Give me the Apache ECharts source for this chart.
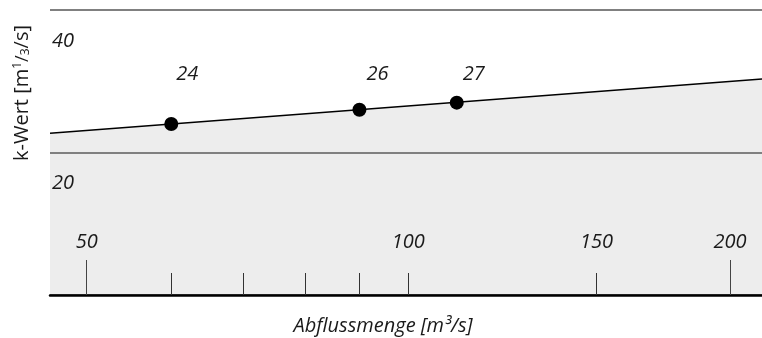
<!DOCTYPE html>
<html>
<head>
<meta charset="utf-8">
<style>
  html, body { margin: 0; padding: 0; background: #fff; }
  #chart { width: 762px; height: 338px; }
</style>
<script src="https://cdn.jsdelivr.net/npm/echarts@6/dist/echarts.min.js"></script>
</head>
<body>
<div id="chart"></div>
<script>
// Measured points: discharge Q [m³/s] and Strickler value k [m^(1/3)/s]
const dischargeQ = [60, 90, 111];
const kValues = [24, 26, 27];

// Fitted trend line (straight on log-scaled Q), taken at the axis ends
const trendQ = [46.2, 214.3];
const trendK = [22.7, 30.3];

// Axis ticks and labels
const xTickValues = [50, 60, 70, 80, 90, 100, 150, 200];
const xLongTickValues = [50, 200];
const xLabelValues = [50, 100, 150, 200];
const yLabelValues = [20, 40];

const FONT = '"Open Sans", "Noto Sans", sans-serif';
const TEXT = '#1a1a1a';

const chart = echarts.init(document.getElementById('chart'), null, { renderer: 'canvas' });

// per-point label shifts (labels sit on one common row above the line)
const labelShift = [[16, -50], [18, -35], [17, -28]];

const pointData = dischargeQ.map((q, i) => ({
  value: [q, kValues[i]],
  label: { offset: labelShift[i] }
}));

const option = {
  animation: false,
  grid: {
    left: 50, right: 0, top: 10, bottom: 43,
    containLabel: false,
    outerBoundsMode: 'none'
  },
  xAxis: [
    {
      type: 'log',
      logBase: 10,
      min: trendQ[0],
      max: trendQ[1],
      z: 5,
      name: 'Abflussmenge [m³/s]',
      nameLocation: 'middle',
      nameGap: 21,
      nameTextStyle: {
        fontFamily: FONT, fontStyle: 'italic', fontSize: 20, color: TEXT,
        padding: [0, 46, 0, 0], verticalAlign: 'top'
      },
      axisLine: { show: true, lineStyle: { color: '#000', width: 2.5 } },
      axisTick: {
        show: true, inside: true, length: 22,
        customValues: xTickValues,
        lineStyle: { color: '#333', width: 1 }
      },
      axisLabel: {
        show: true, inside: true, margin: 43,
        customValues: xLabelValues,
        fontFamily: FONT, fontStyle: 'italic', fontSize: 20, color: TEXT
      },
      splitLine: { show: false },
      minorTick: { show: false }
    },
    {
      type: 'log',
      logBase: 10,
      min: trendQ[0],
      max: trendQ[1],
      z: 5,
      position: 'bottom',
      axisLine: { show: false },
      axisTick: {
        show: true, inside: true, length: 35,
        customValues: xLongTickValues,
        lineStyle: { color: '#444', width: 1 }
      },
      axisLabel: { show: false },
      splitLine: { show: false }
    }
  ],
  yAxis: {
    type: 'value',
    min: 0,
    max: 40,
    interval: 20,
    z: 4,
    axisLine: { show: false },
    axisTick: { show: false },
    axisLabel: {
      show: true, inside: true, margin: 2,
      customValues: yLabelValues,
      verticalAlign: 'top',
      padding: [21, 0, 0, 0],
      fontFamily: FONT, fontStyle: 'italic', fontSize: 20, color: TEXT
    },
    splitLine: { show: true, lineStyle: { color: '#808080', width: 2 } }
  },
  graphic: [
    {
      type: 'text',
      x: 22,
      y: 93,
      rotation: Math.PI / 2,
      style: {
        text: '{a|k-Wert [m}{s|1}{f|/}{b|3}{a|/s]}',
        textAlign: 'center',
        textVerticalAlign: 'middle',
        fill: TEXT,
        rich: {
          a: { fontFamily: FONT, fontSize: 20, fill: TEXT, verticalAlign: 'bottom' },
          s: { fontFamily: FONT, fontSize: 12, fill: TEXT, verticalAlign: 'top' },
          f: { fontFamily: FONT, fontSize: 18, fill: TEXT, verticalAlign: 'bottom' },
          b: { fontFamily: FONT, fontSize: 12, fill: TEXT, verticalAlign: 'bottom' }
        }
      },
      z: 100
    }
  ],
  series: [
    {
      name: 'Trend',
      type: 'line',
      data: trendQ.map((q, i) => [q, trendK[i]]),
      showSymbol: false,
      lineStyle: { color: '#000', width: 1.5 },
      areaStyle: { color: '#ededed', opacity: 1, origin: 'start' },
      z: 1
    },
    {
      name: 'k-Wert',
      type: 'scatter',
      data: pointData,
      symbol: 'circle',
      symbolSize: 14,
      itemStyle: { color: '#000', opacity: 1 },
      label: {
        show: true,
        position: 'inside',
        formatter: p => String(p.value[1]),
        fontFamily: FONT, fontStyle: 'italic', fontSize: 20, color: TEXT,
        textBorderWidth: 0, opacity: 1
      },
      z: 6
    }
  ]
};

chart.setOption(option);
</script>
</body>
</html>
